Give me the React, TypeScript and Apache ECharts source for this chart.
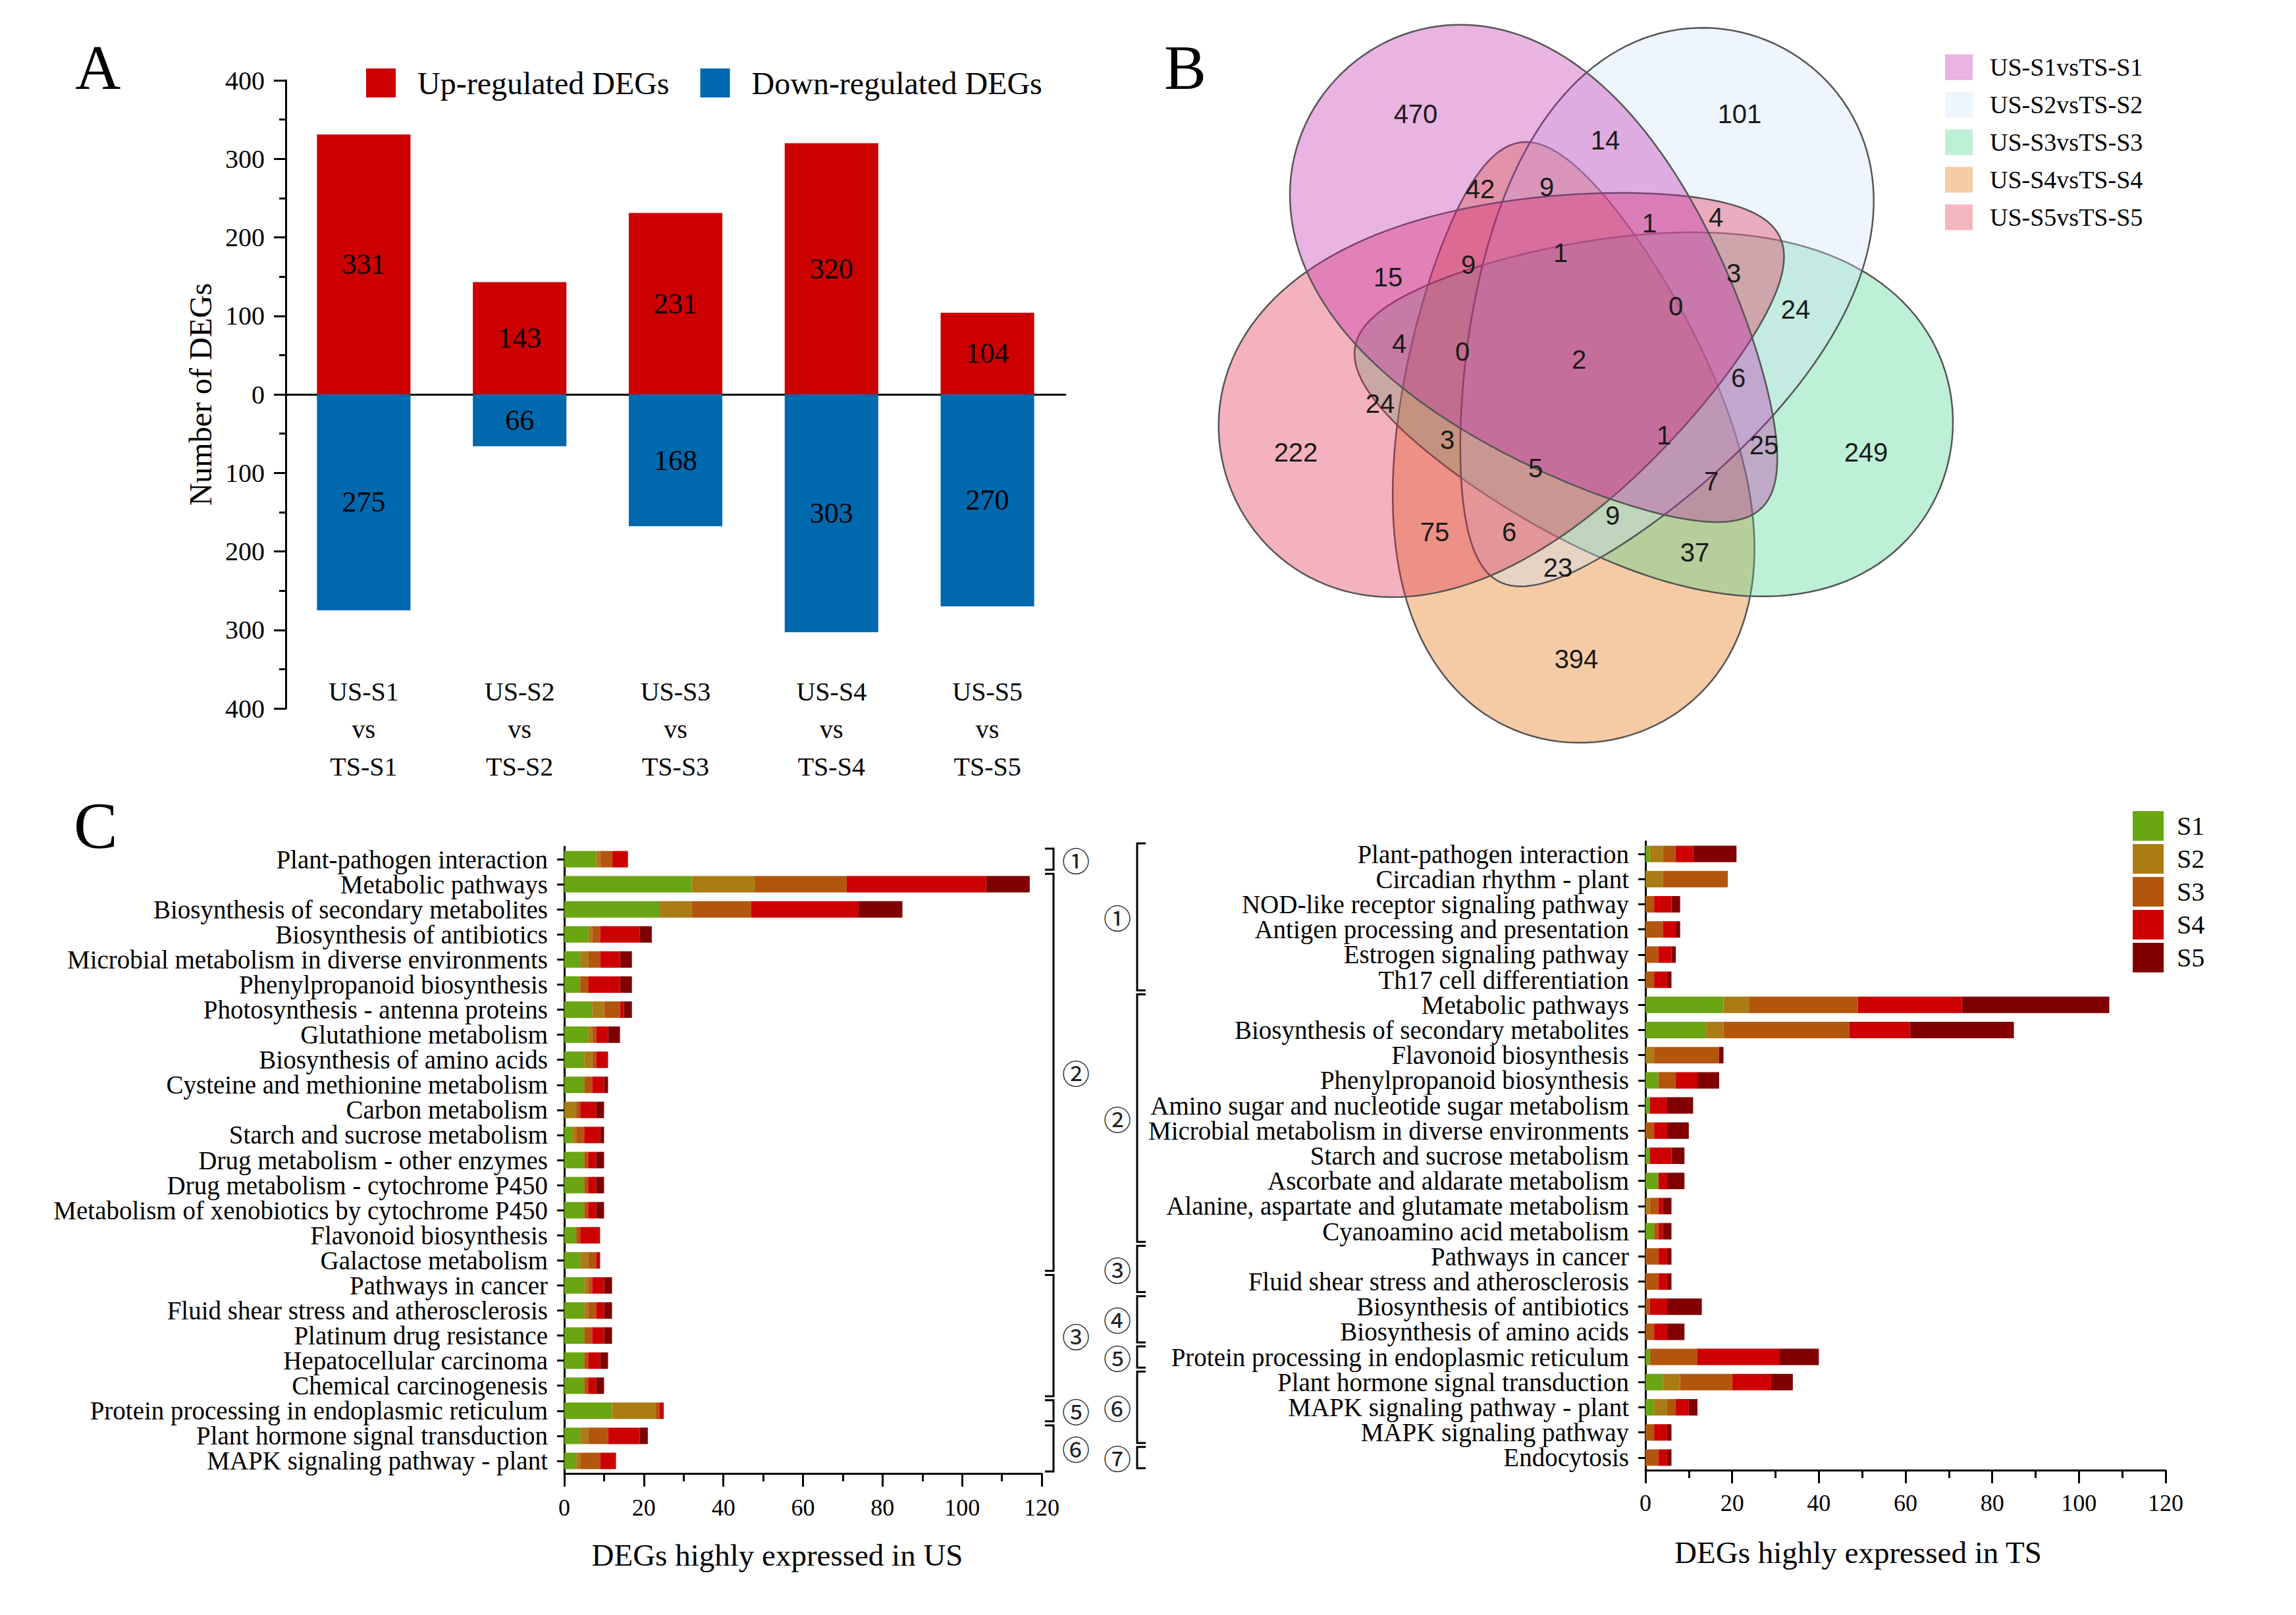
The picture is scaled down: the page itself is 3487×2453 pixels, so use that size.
import React, { useEffect, useRef } from 'react';
import * as echarts from 'echarts';

const W = 3487;
const H = 2453;
const SERIF = '"Liberation Serif", "Times New Roman", Times, serif';
const SANS = '"Liberation Sans", Arial, Helvetica, sans-serif';
const CJK = '"Noto Sans CJK SC", "DejaVu Sans", sans-serif';

// ---------------- Panel A data ----------------
const comparisons = ['US-S1\nvs\nTS-S1', 'US-S2\nvs\nTS-S2', 'US-S3\nvs\nTS-S3', 'US-S4\nvs\nTS-S4', 'US-S5\nvs\nTS-S5'];
const upRegulated = [331, 143, 231, 320, 104];
const downRegulated = [275, 66, 168, 303, 270];

// ---------------- Panel B data ----------------
const vennSetNames = ['US-S1vsTS-S1', 'US-S2vsTS-S2', 'US-S3vsTS-S3', 'US-S4vsTS-S4', 'US-S5vsTS-S5'];
const vennRegionCounts = [470, 101, 14, 42, 9, 1, 4, 15, 9, 1, 3, 0, 24, 4, 0, 2, 6, 24, 3, 1, 25, 222, 249, 5, 7, 9, 75, 6, 37, 23, 394];

// ---------------- Panel C data ----------------
const stages = ['S1', 'S2', 'S3', 'S4', 'S5'];
const usPathways = [
  'Plant-pathogen interaction', 'Metabolic pathways', 'Biosynthesis of secondary metabolites', 'Biosynthesis of antibiotics',
  'Microbial metabolism in diverse environments', 'Phenylpropanoid biosynthesis', 'Photosynthesis - antenna proteins',
  'Glutathione metabolism', 'Biosynthesis of amino acids', 'Cysteine and methionine metabolism', 'Carbon metabolism',
  'Starch and sucrose metabolism', 'Drug metabolism - other enzymes', 'Drug metabolism - cytochrome P450',
  'Metabolism of xenobiotics by cytochrome P450', 'Flavonoid biosynthesis', 'Galactose metabolism', 'Pathways in cancer',
  'Fluid shear stress and atherosclerosis', 'Platinum drug resistance', 'Hepatocellular carcinoma', 'Chemical carcinogenesis',
  'Protein processing in endoplasmic reticulum', 'Plant hormone signal transduction', 'MAPK signaling pathway - plant',
];
const usS1 = [8, 32, 24, 6, 4, 4, 7, 6, 5, 5, 0, 2, 5, 5, 5, 3, 4, 5, 5, 5, 5, 5, 12, 4, 3];
const usS2 = [1, 16, 8, 1, 2, 0, 3, 1, 2, 0, 3, 1, 0, 0, 0, 0, 2, 1, 1, 0, 0, 0, 11, 2, 1];
const usS3 = [3, 23, 15, 2, 3, 2, 4, 1, 1, 2, 1, 2, 1, 1, 1, 1, 2, 1, 2, 2, 1, 1, 1, 5, 5];
const usS4 = [4, 35, 27, 10, 5, 8, 1, 3, 3, 3, 4, 4, 2, 2, 2, 5, 1, 3, 2, 3, 3, 2, 1, 8, 4];
const usS5 = [0, 11, 11, 3, 3, 3, 2, 3, 0, 1, 2, 1, 2, 2, 2, 0, 0, 2, 2, 2, 2, 2, 0, 2, 0];

const tsPathways = [
  'Plant-pathogen interaction', 'Circadian rhythm - plant', 'NOD-like receptor signaling pathway',
  'Antigen processing and presentation', 'Estrogen signaling pathway', 'Th17 cell differentiation', 'Metabolic pathways',
  'Biosynthesis of secondary metabolites', 'Flavonoid biosynthesis', 'Phenylpropanoid biosynthesis',
  'Amino sugar and nucleotide sugar metabolism', 'Microbial metabolism in diverse environments',
  'Starch and sucrose metabolism', 'Ascorbate and aldarate metabolism', 'Alanine, aspartate and glutamate metabolism',
  'Cyanoamino acid metabolism', 'Pathways in cancer', 'Fluid shear stress and atherosclerosis', 'Biosynthesis of antibiotics',
  'Biosynthesis of amino acids', 'Protein processing in endoplasmic reticulum', 'Plant hormone signal transduction',
  'MAPK signaling pathway - plant', 'MAPK signaling pathway', 'Endocytosis',
];
const tsS1 = [1, 0, 0, 0, 0, 0, 18, 14, 0, 3, 1, 0, 1, 3, 0, 2, 0, 0, 0, 0, 1, 4, 2, 0, 0];
const tsS2 = [3, 4, 0, 0, 0, 0, 6, 4, 2, 0, 0, 0, 0, 0, 1, 0, 0, 0, 0, 0, 0, 4, 3, 0, 0];
const tsS3 = [3, 15, 2, 4, 3, 2, 25, 29, 15, 4, 0, 2, 0, 0, 2, 1, 3, 3, 1, 2, 11, 12, 2, 2, 3];
const tsS4 = [4, 0, 4, 3, 3, 3, 24, 14, 0, 5, 4, 3, 5, 2, 1, 1, 2, 2, 4, 3, 19, 9, 3, 3, 2];
const tsS5 = [10, 0, 2, 1, 1, 1, 34, 24, 1, 5, 6, 5, 3, 4, 2, 2, 1, 1, 8, 4, 9, 5, 2, 1, 1];

const usGroups = [
  { mark: '①', from: 0, to: 0 }, { mark: '②', from: 1, to: 16 }, { mark: '③', from: 17, to: 21 },
  { mark: '⑤', from: 22, to: 22 }, { mark: '⑥', from: 23, to: 24 },
];
const tsGroups = [
  { mark: '①', from: 0, to: 5 }, { mark: '②', from: 6, to: 15 }, { mark: '③', from: 16, to: 17 },
  { mark: '④', from: 18, to: 19 }, { mark: '⑤', from: 20, to: 20 }, { mark: '⑥', from: 21, to: 23 },
  { mark: '⑦', from: 24, to: 24 },
];

// ---------------- layout / styles ----------------
const stageColors = ['#6aa512', '#a97c14', '#b3560d', '#cc0000', '#800000'];
const upColor = '#cc0000';
const downColor = '#0068ad';

const gridA = { left: 434, top: 122, width: 1184, height: 954 };
const gridL = { left: 857, top: 1286, width: 725, height: 952 };
const gridR = { left: 2499, top: 1278, width: 790, height: 955 };

const vennFills = ['rgba(192,38,172,0.35)', 'rgba(206,225,246,0.35)', 'rgba(66,212,138,0.35)', 'rgba(226,106,0,0.35)', 'rgba(223,33,73,0.35)'];
const vennDrawOrder = [4, 2, 1, 0, 3]; // z rank of each set (S4 first, S1 last)
const vennLegendFills = ['#e9b3e2', '#eef5fc', '#bdf0d6', '#f5cba8', '#f4b6bf'];
const vennShapes = [
  { cx: 2357, cy: 441, deg: 226.1 },
  { cx: 2492, cy: 478, deg: 298.1 },
  { cx: 2510, cy: 607, deg: 10.1 },
  { cx: 2372, cy: 671, deg: 82.1 },
  { cx: 2290, cy: 560, deg: 154.1 },
];
const eggA = 459;
const eggB = 258;
const eggK = 0.35;
const vennLabelPos = [
  [2150, 173], [2642, 173], [2438, 213], [2248, 287], [2349, 284], [2505, 339], [2606, 330], [2108, 421],
  [2230, 402], [2370, 384], [2633, 415], [2545, 465], [2727, 470], [2125, 522], [2221, 534], [2398, 546],
  [2640, 574], [2096, 613], [2198, 668], [2527, 661], [2679, 676], [1968, 687], [2834, 687], [2332, 711],
  [2599, 731], [2449, 783], [2179, 808], [2292, 808], [2574, 839], [2366, 862], [2394, 1001],
];

function eggPoints(cx: number, cy: number, deg: number) {
  const r = (deg * Math.PI) / 180;
  const dx = Math.cos(r);
  const dy = Math.sin(r);
  const pts: number[][] = [];
  const n = 160;
  for (let i = 0; i < n; i++) {
    const t = (i / n) * Math.PI * 2;
    const u = eggA * Math.cos(t);
    const v = eggB * Math.sin(t) * (1 + eggK * Math.cos(t));
    pts.push([cx + u * dx - v * dy, cy + u * dy + v * dx]);
  }
  return pts;
}

function txt(x: number, y: number, text: string, fontSize: number, fontFamily: string, align = 'center', extra: any = {}) {
  return {
    type: 'text',
    x,
    y,
    z: 100,
    style: {
      text,
      fontSize,
      fontFamily,
      fill: extra.fill || '#000',
      align,
      textAlign: align,
      verticalAlign: 'middle',
      textVerticalAlign: 'middle',
      lineHeight: extra.lineHeight,
    },
  };
}

function buildGraphic() {
  const els: any[] = [];
  // panel letters
  els.push(txt(114, 102, 'A', 96, SERIF, 'left'));
  els.push(txt(1768, 102, 'B', 96, SERIF, 'left'));
  els.push(txt(112, 1253, 'C', 100, SERIF, 'left'));

  // Venn shapes
  vennShapes.forEach((s, i) => {
    els.push({
      type: 'polygon',
      z: 10 + vennDrawOrder[i],
      shape: { points: eggPoints(s.cx, s.cy, s.deg) },
      style: { fill: vennFills[i], stroke: '#555555', lineWidth: 2.5 },
    });
  });
  vennRegionCounts.forEach((c, i) => {
    const p = vennLabelPos[i];
    els.push(txt(p[0], p[1], String(c), 40, SANS, 'center', { fill: '#1a1a1a' }));
  });
  // Venn legend
  vennSetNames.forEach((name, i) => {
    const cy = 102 + i * 57;
    els.push({ type: 'rect', z: 50, shape: { x: 2954, y: cy - 19.5, width: 42, height: 39 }, style: { fill: vennLegendFills[i] } });
    els.push(txt(3022, cy, name, 38, SERIF, 'left'));
  });

  // brackets, US panel ("]" shape)
  const bandL = gridL.height / usPathways.length;
  const rowL = (i: number) => gridL.top + (i + 0.5) * bandL;
  usGroups.forEach((g) => {
    const top = rowL(g.from) - 0.42 * bandL;
    const bot = rowL(g.to) + 0.42 * bandL;
    els.push({
      type: 'polyline', z: 50,
      shape: { points: [[1587, top], [1600, top], [1600, bot], [1587, bot]] },
      style: { stroke: '#000', lineWidth: 3, fill: null },
    });
    els.push(txt(1634, (top + bot) / 2, g.mark, 42, CJK, 'center', { fill: '#222', lineHeight: 44 }));
  });
  // brackets, TS panel ("[" shape)
  const bandR = gridR.height / tsPathways.length;
  const rowR = (i: number) => gridR.top + (i + 0.5) * bandR;
  tsGroups.forEach((g) => {
    const top = rowR(g.from) - 0.42 * bandR;
    const bot = rowR(g.to) + 0.42 * bandR;
    els.push({
      type: 'polyline', z: 50,
      shape: { points: [[1740, top], [1727, top], [1727, bot], [1740, bot]] },
      style: { stroke: '#000', lineWidth: 3, fill: null },
    });
    els.push(txt(1697, (top + bot) / 2, g.mark, 42, CJK, 'center', { fill: '#222', lineHeight: 44 }));
  });
  return els;
}

const axisLineBlack = { show: true, lineStyle: { color: '#000', width: 3 } };

function catAxis(gridIndex: number, data: string[]) {
  return {
    gridIndex,
    type: 'category',
    inverse: true,
    data,
    axisLine: axisLineBlack,
    axisTick: { show: true, alignWithLabel: true, length: 11, interval: 0, lineStyle: { color: '#000', width: 3 } },
    axisLabel: { interval: 0, fontSize: 39, color: '#000', fontFamily: SERIF, margin: 25 },
    splitLine: { show: false },
  };
}

function valAxisC(gridIndex: number, name: string, padRight: number, labelMargin: number, nameGap: number) {
  return {
    gridIndex,
    type: 'value',
    min: 0,
    max: 120,
    interval: 20,
    axisLine: axisLineBlack,
    axisTick: { show: true, length: 20, lineStyle: { color: '#000', width: 3 } },
    minorTick: { show: true, splitNumber: 2, length: 12, lineStyle: { color: '#000', width: 3 } },
    splitLine: { show: false },
    minorSplitLine: { show: false },
    axisLabel: { fontSize: 36, color: '#000', fontFamily: SERIF, margin: labelMargin },
    name,
    nameLocation: 'middle',
    nameGap,
    nameTextStyle: { fontSize: 47, color: '#000', fontFamily: SERIF, padding: [0, padRight, 0, 0] },
  };
}

function buildOption() {
  const usStages = [usS1, usS2, usS3, usS4, usS5];
  const tsStages = [tsS1, tsS2, tsS3, tsS4, tsS5];
  return {
    animation: false,
    backgroundColor: '#ffffff',
    textStyle: { fontFamily: SERIF, color: '#000' },
    grid: [
      { ...gridA, outerBoundsMode: 'none' },
      { ...gridL, outerBoundsMode: 'none' },
      { ...gridR, outerBoundsMode: 'none' },
    ],
    legend: [
      {
        data: ['Up-regulated DEGs', 'Down-regulated DEGs'],
        left: 551, top: 97, itemWidth: 45, itemHeight: 44, itemGap: 47, icon: 'rect', selectedMode: false,
        textStyle: { fontSize: 48, color: '#000', fontFamily: SERIF, padding: [0, 0, 0, 28] },
      },
      {
        data: stages,
        orient: 'vertical', left: 3234, top: 1227, itemWidth: 47, itemHeight: 45, itemGap: 5, icon: 'rect', selectedMode: false,
        textStyle: { fontSize: 40, color: '#000', fontFamily: SERIF, padding: [0, 0, 0, 15] },
      },
    ],
    xAxis: [
      {
        gridIndex: 0, type: 'category', data: comparisons, position: 'top',
        axisLine: { show: true, onZero: true, lineStyle: { color: '#000', width: 3 } },
        axisTick: { show: false }, axisLabel: { show: false }, splitLine: { show: false },
      },
      {
        gridIndex: 0, type: 'category', data: comparisons, position: 'bottom', offset: -54,
        axisLine: { show: false, onZero: false }, axisTick: { show: false }, splitLine: { show: false },
        axisLabel: { interval: 0, fontSize: 40, lineHeight: 57, color: '#000', fontFamily: SERIF, margin: 0 },
      },
      valAxisC(1, 'DEGs highly expressed in US', 78, 34, 100),
      valAxisC(2, 'DEGs highly expressed in TS', 144, 32, 101),
    ],
    yAxis: [
      {
        gridIndex: 0, type: 'value', min: -400, max: 400, interval: 100,
        axisLine: axisLineBlack,
        axisTick: { show: true, length: 18, lineStyle: { color: '#000', width: 3 } },
        minorTick: { show: true, splitNumber: 2, length: 10, lineStyle: { color: '#000', width: 3 } },
        splitLine: { show: false }, minorSplitLine: { show: false },
        axisLabel: { formatter: (v: number) => String(Math.abs(v)), fontSize: 40, color: '#000', fontFamily: SERIF, margin: 32 },
        name: 'Number of DEGs', nameLocation: 'middle', nameGap: 106,
        nameTextStyle: { fontSize: 48, color: '#000', fontFamily: SERIF },
      },
      catAxis(1, usPathways),
      catAxis(2, tsPathways),
    ],
    series: [
      {
        name: 'Up-regulated DEGs', type: 'bar', xAxisIndex: 0, yAxisIndex: 0, stack: 'deg', barWidth: '60%',
        data: upRegulated, itemStyle: { color: upColor },
        label: { show: true, position: 'inside', fontSize: 44, color: '#000', fontFamily: SERIF },
      },
      {
        name: 'Down-regulated DEGs', type: 'bar', xAxisIndex: 0, yAxisIndex: 0, stack: 'deg', barWidth: '60%',
        data: downRegulated.map((v) => -v), itemStyle: { color: downColor },
        label: { show: true, position: 'inside', fontSize: 44, color: '#000', fontFamily: SERIF, formatter: (p: any) => String(Math.abs(p.value)) },
      },
      ...stages.map((s, k) => ({
        name: s, type: 'bar', xAxisIndex: 2, yAxisIndex: 1, stack: 'us', barWidth: 25,
        data: usStages[k], itemStyle: { color: stageColors[k] },
      })),
      ...stages.map((s, k) => ({
        name: s, type: 'bar', xAxisIndex: 3, yAxisIndex: 2, stack: 'ts', barWidth: 25,
        data: tsStages[k], itemStyle: { color: stageColors[k] },
      })),
    ],
    graphic: { elements: buildGraphic() },
  };
}

export default function App() {
  const ref = useRef<HTMLDivElement>(null);
  useEffect(() => {
    document.body.style.margin = '0';
    const chart = echarts.init(ref.current as HTMLDivElement, null, { renderer: 'svg', width: W, height: H });
    chart.setOption(buildOption() as any);
    return () => chart.dispose();
  }, []);
  return <div ref={ref} style={{ position: 'absolute', left: 0, top: 0, width: W, height: H, background: '#fff' }} />;
}
